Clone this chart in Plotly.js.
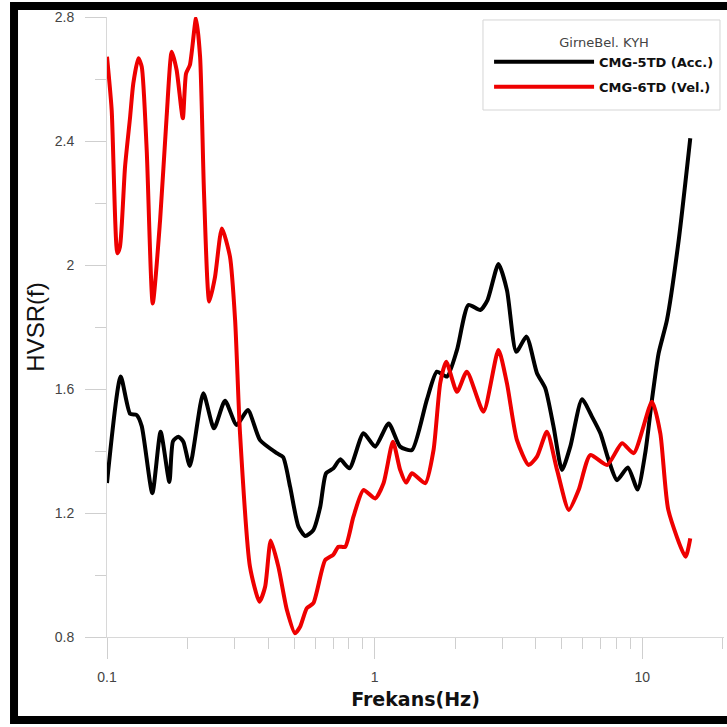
<!DOCTYPE html>
<html>
<head>
<meta charset="utf-8">
<script src="https://cdn.plot.ly/plotly-3.0.1.min.js"></script>
<style>
html, body { margin: 0; padding: 0; background: #fff; overflow: hidden; }
#chart { width: 727px; height: 727px; }
</style>
</head>
<body>
<div id="chart"></div>
<script>
// ---- data ----
const accFreq = [0.100, 0.1125, 0.122, 0.129, 0.1348, 0.1477, 0.1586, 0.171, 0.1765, 0.1849, 0.1928,
  0.204, 0.229, 0.251, 0.276, 0.305, 0.336, 0.373, 0.431, 0.455, 0.483, 0.519, 0.550, 0.590, 0.626,
  0.658, 0.701, 0.743, 0.805, 0.908, 1.004, 1.128, 1.245, 1.378, 1.566, 1.708, 1.862, 2.03, 2.24,
  2.48, 2.64, 2.90, 3.12, 3.38, 3.69, 4.04, 4.34, 4.66, 5.01, 5.38, 5.95, 6.48, 6.97, 7.48, 8.04,
  8.83, 9.6, 10.25, 10.86, 11.5, 12.36, 13.67, 15.1];
const accHVSR = [1.297, 1.640, 1.520, 1.516, 1.480, 1.264, 1.462, 1.300, 1.432, 1.446, 1.430,
  1.352, 1.586, 1.473, 1.562, 1.484, 1.532, 1.435, 1.393, 1.380, 1.285, 1.156, 1.126, 1.145, 1.220,
  1.328, 1.344, 1.373, 1.344, 1.457, 1.414, 1.489, 1.414, 1.403, 1.565, 1.656, 1.640, 1.726, 1.871,
  1.855, 1.887, 2.003, 1.919, 1.720, 1.769, 1.651, 1.602, 1.478, 1.339, 1.414, 1.567, 1.511, 1.457,
  1.371, 1.306, 1.347, 1.276, 1.393, 1.565, 1.715, 1.823, 2.080, 2.409];

const velFreq = [0.100, 0.1041, 0.1093, 0.1118, 0.1168, 0.122, 0.1254, 0.131, 0.1348, 0.1407, 0.1482,
  0.1579, 0.167, 0.1745, 0.182, 0.192, 0.1974, 0.204, 0.2151, 0.2227, 0.2304, 0.241, 0.2533, 0.2686,
  0.288, 0.301, 0.314, 0.342, 0.371, 0.3897, 0.409, 0.4367, 0.470, 0.504, 0.5266, 0.558, 0.590, 0.653,
  0.700, 0.732, 0.776, 0.833, 0.908, 1.004, 1.079, 1.17, 1.245, 1.31, 1.378, 1.545, 1.659, 1.758,
  1.85, 2.03, 2.21, 2.55, 2.90, 3.12, 3.40, 3.76, 4.04, 4.40, 4.80, 5.31, 5.78, 6.39, 7.38, 8.40,
  9.28, 10.86, 11.67, 12.5, 14.5, 15.1];
const velHVSR = [2.672, 2.500, 2.038, 2.059, 2.317, 2.478, 2.586, 2.667, 2.640, 2.371, 1.876,
  2.145, 2.478, 2.688, 2.629, 2.473, 2.618, 2.645, 2.796, 2.672, 2.231, 1.882, 1.962, 2.118,
  2.027, 1.823, 1.457, 1.027, 0.914, 0.962, 1.111, 1.027, 0.887, 0.812, 0.833, 0.893, 0.909, 1.048,
  1.065, 1.091, 1.091, 1.188, 1.274, 1.247, 1.296, 1.430, 1.339, 1.298, 1.328, 1.296, 1.403, 1.620,
  1.688, 1.591, 1.656, 1.527, 1.726, 1.618, 1.435, 1.355, 1.382, 1.462, 1.339, 1.210, 1.274, 1.387,
  1.355, 1.425, 1.393, 1.559, 1.457, 1.210, 1.059, 1.118];

const seriesNames = ["CMG-5TD (Acc.)", "CMG-6TD (Vel.)"];
const legendTitle = "GirneBel. KYH";
const xMajorTicks = [0.1, 1, 10];
const xTickText = ["0.1", "1", "10"];
const xMinorTicks = [0.2, 0.3, 0.4, 0.5, 0.6, 0.7, 0.8, 0.9, 2, 3, 4, 5, 6, 7, 8, 9, 20];
const yMajorTicks = [0.8, 1.2, 1.6, 2.0, 2.4, 2.8];
const yTickText = ["0.8", "1.2", "1.6", "2", "2.4", "2.8"];
const yMinorTicks = [1.0, 1.4, 1.8, 2.2, 2.6];

const traces = [
  { x: accFreq, y: accHVSR, name: seriesNames[0], legendgroup: "acc", type: "scatter", mode: "lines",
    line: { color: "#000000", width: 4, shape: "spline", smoothing: 0.6 } },
  { x: velFreq, y: velHVSR, name: seriesNames[1], legendgroup: "vel", type: "scatter", mode: "lines",
    line: { color: "#ee0000", width: 4, shape: "spline", smoothing: 0.6 } }
];

const tickGray = "#cfcfcf";
const layout = {
  width: 727, height: 727,
  margin: { l: 107, r: 3, t: 17, b: 90 },
  paper_bgcolor: "#ffffff", plot_bgcolor: "#ffffff",
  showlegend: true,
  xaxis: {
    type: "log", range: [-1, 1.305],
    tickvals: xMajorTicks, ticktext: xTickText,
    ticks: "outside", ticklen: 21, tickcolor: tickGray, tickwidth: 1,
    ticklabelstandoff: 6,
    minor: { tickvals: xMinorTicks, ticks: "outside", ticklen: 11, tickcolor: tickGray, showgrid: false },
    showgrid: false, zeroline: false,
    showline: true, linecolor: "#d8d8d8", linewidth: 1,
    tickfont: { family: "Liberation Sans, Arial, sans-serif", size: 14, color: "#444" },
    title: { text: "Frekans(Hz)", standoff: 8,
      font: { family: "DejaVu Sans, sans-serif", size: 19, color: "#111", weight: "bold" } }
  },
  yaxis: {
    range: [0.8, 2.8],
    tickvals: yMajorTicks, ticktext: yTickText,
    ticks: "outside", ticklen: 21, tickcolor: tickGray, tickwidth: 1,
    ticklabelstandoff: 8,
    minor: { tickvals: yMinorTicks, ticks: "outside", ticklen: 11, tickcolor: tickGray, showgrid: false },
    showgrid: false, zeroline: false,
    showline: true, linecolor: "#d8d8d8", linewidth: 1,
    tickfont: { family: "Liberation Sans, Arial, sans-serif", size: 14, color: "#444" },
    title: { text: "HVSR(f)", standoff: 3,
      font: { family: "Liberation Sans, Arial, sans-serif", size: 24, color: "#111" } }
  },
  legend: {
    x: 0.992, y: 0.979, xanchor: "right", yanchor: "top",
    bgcolor: "rgba(255,255,255,0)", borderwidth: 0,
    itemwidth: 100, tracegroupgap: 5,
    title: { text: legendTitle, side: "top center",
      font: { family: "DejaVu Sans, sans-serif", size: 13, color: "#444", weight: "normal" } },
    font: { family: "DejaVu Sans, sans-serif", size: 13, color: "#111", weight: "bold" }
  },
  shapes: [
    // legend box
    { type: "rect", xref: "paper", yref: "paper",
      x0: 0.6094, x1: 0.9935, y0: 0.8500, y1: 0.9952,
      line: { color: "#d5d5d5", width: 1 }, fillcolor: "#ffffff", layer: "below" },
    // outer black frame
    { type: "rect", xref: "paper", yref: "paper",
      x0: -0.1507, x1: 1.06, y0: -0.1339, y1: 1.0177,
      line: { color: "#000000", width: 8 }, fillcolor: "rgba(0,0,0,0)", layer: "above" }
  ]
};

Plotly.newPlot("chart", traces, layout, { displayModeBar: false, staticPlot: true });
</script>
</body>
</html>
